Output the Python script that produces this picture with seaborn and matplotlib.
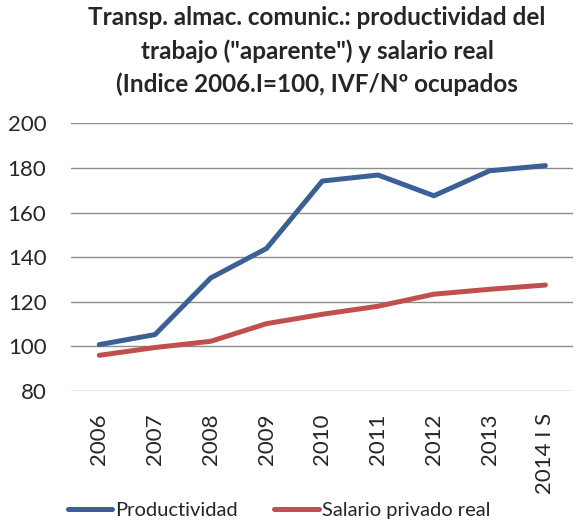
import matplotlib
matplotlib.use('Agg')
import matplotlib.pyplot as plt
import seaborn as sns
import pandas as pd

# Datos
periodos = ['2006', '2007', '2008', '2009', '2010', '2011', '2012', '2013', '2014 I S']
productividad = [100.8, 105.3, 130.7, 143.9, 174.1, 176.8, 167.5, 178.7, 181.0]
salario_real = [96.0, 99.5, 102.3, 110.2, 114.4, 118.0, 123.4, 125.6, 127.5]

df = pd.DataFrame({
    'periodo': periodos * 2,
    'valor': productividad + salario_real,
    'serie': ['Productividad'] * len(periodos) + ['Salario privado real'] * len(periodos),
})

sns.set_style('white')
plt.rcParams['font.family'] = ['Lato', 'DejaVu Sans']

fig = plt.figure(figsize=(5.87, 5.2), dpi=100)
ax = fig.add_axes([0.1216, 0.248, 0.855, 0.515])

sns.lineplot(data=df, x='periodo', y='valor', hue='serie', sort=False,
             palette=['#3A6096', '#C0504D'], linewidth=3.6, ax=ax)

ax.set_ylim(80, 200)
ax.set_yticks(range(80, 201, 20))
ax.set_xlim(-0.5, len(periodos) - 0.5)
ax.grid(axis='y', color='#8C8C8C', linewidth=1)
ax.set_axisbelow(True)
for s in ax.spines.values():
    s.set_visible(False)
ax.tick_params(axis='both', length=0, labelsize=16)
ax.tick_params(axis='x', rotation=90, pad=16)
ax.tick_params(axis='y', pad=18)
ax.set_xlabel('')
ax.set_ylabel('')

fig.text(0.54, 0.988,
         'Transp. almac. comunic.: productividad del\ntrabajo ("aparente") y salario real\n(Indice 2006.I=100, IVF/Nº ocupados',
         ha='center', va='top', fontsize=17.5, fontweight='bold', linespacing=1.5)

ax.legend(loc='lower center', bbox_to_anchor=(0.414, -0.545), ncol=2, frameon=False,
          fontsize=14.5, handlelength=2.2, handletextpad=0.15, columnspacing=1.8)

fig.savefig('out.png', dpi=100)
